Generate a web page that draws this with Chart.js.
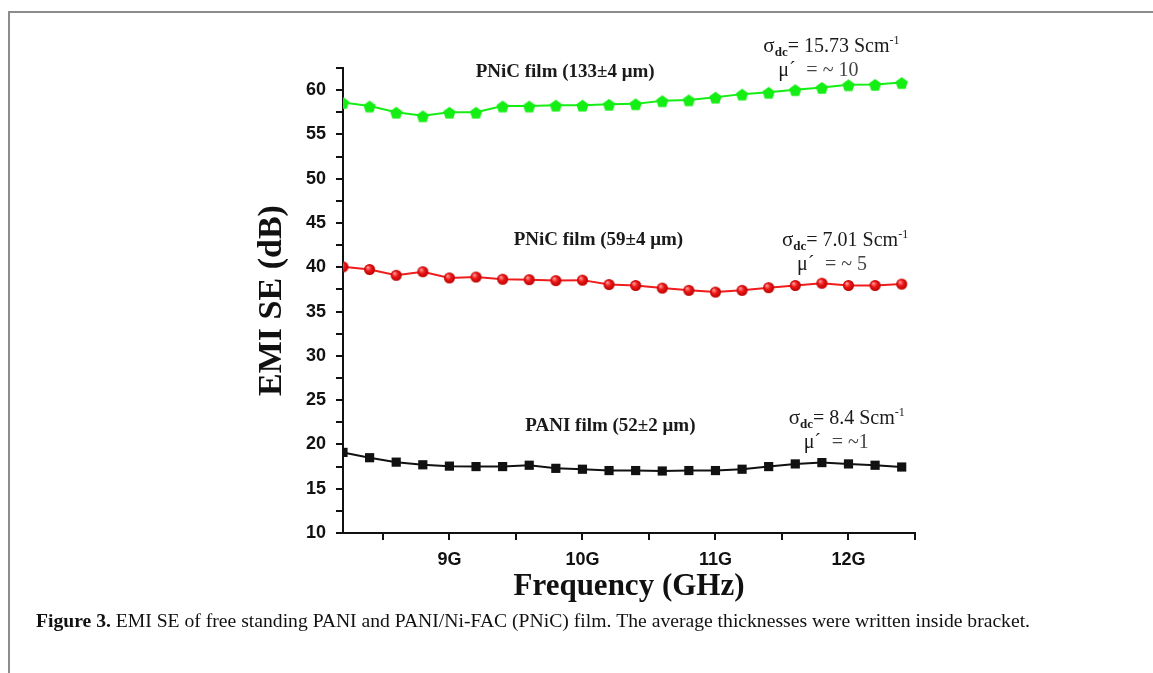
<!DOCTYPE html>
<html>
<head>
<meta charset="utf-8">
<script src="https://cdn.jsdelivr.net/npm/chart.js@4/dist/chart.umd.min.js"></script>
<style>
body{margin:0;background:#fff;}
#wrap{position:relative;width:1153px;height:673px;overflow:hidden;background:#fff;}
.frame{position:absolute;left:8px;top:11px;right:-10px;bottom:-10px;border-top:2px solid #8c8c8c;border-left:2px solid #8c8c8c;}
canvas{position:absolute;left:0;top:0;}
</style>
</head>
<body>
<div id="wrap"><div class="frame"></div><canvas id="chart" width="1153" height="673"></canvas></div>
<script>
// frequency points (GHz)
const freq = [8.2, 8.4, 8.6, 8.8, 9.0, 9.2, 9.4, 9.6, 9.8, 10.0, 10.2, 10.4, 10.6, 10.8, 11.0, 11.2, 11.4, 11.6, 11.8, 12.0, 12.2, 12.4]
// EMI SE (dB)
const pani52 = [19.1, 18.5, 18.0, 17.7, 17.55, 17.5, 17.5, 17.65, 17.3, 17.2, 17.05, 17.05, 17.0, 17.05, 17.05, 17.2, 17.5, 17.8, 17.95, 17.8, 17.65, 17.45]
const pnic59 = [40.05, 39.75, 39.1, 39.5, 38.8, 38.9, 38.65, 38.6, 38.5, 38.55, 38.05, 37.95, 37.65, 37.4, 37.2, 37.4, 37.7, 37.95, 38.2, 37.95, 37.95, 38.1]
const pnic133 = [58.6, 58.2, 57.5, 57.1, 57.5, 57.5, 58.2, 58.2, 58.3, 58.3, 58.4, 58.45, 58.8, 58.9, 59.2, 59.55, 59.75, 60.05, 60.3, 60.6, 60.65, 60.85]

const xTicks = [8.5, 9, 9.5, 10, 10.5, 11, 11.5, 12, 12.5]
const xLabels = {9: '9G', 10: '10G', 11: '11G', 12: '12G'}
const yTicks = [10, 12.5, 15, 17.5, 20, 22.5, 25, 27.5, 30, 32.5, 35, 37.5, 40, 42.5, 45, 47.5, 50, 52.5, 55, 57.5, 60, 62.5]

// film labels and conductivity notes, placed in data units
const notes = [
  {x: 9.87, y: 62.0, film: 'PNiC film (133±4 μm)', sx: 11.36, sy: 64.3, sigma: '15.73', mu: '= ~ 10'},
  {x: 10.12, y: 43.1, film: 'PNiC film (59±4 μm)', sx: 11.5, sy: 42.4, sigma: '7.01', mu: '= ~ 5'},
  {x: 10.21, y: 22.1, film: 'PANI film (52±2 μm)', sx: 11.55, sy: 22.3, sigma: '8.4', mu: '= ~1'}
]
const caption = ['Figure 3.', ' EMI SE of free standing PANI and PANI/Ni-FAC (PNiC) film. The average thicknesses were written inside bracket.']

function pentagon(color, r){
  const c = document.createElement('canvas')
  const s = Math.ceil(r*2+2)
  c.width = s; c.height = s
  const g = c.getContext('2d')
  g.fillStyle = color
  g.beginPath()
  for(let i=0;i<5;i++){
    const a = -Math.PI/2 + i*2*Math.PI/5
    g.lineTo(s/2 + r*Math.cos(a), s/2 + 1 + r*Math.sin(a))
  }
  g.closePath()
  g.fill()
  return c
}

function sphere(r){
  const c = document.createElement('canvas')
  const s = Math.ceil(r*2+2)
  c.width = s; c.height = s
  const g = c.getContext('2d')
  const grad = g.createRadialGradient(s/2-r*0.35, s/2-r*0.4, 0.5, s/2, s/2, r)
  grad.addColorStop(0, '#ff9a9a')
  grad.addColorStop(0.45, '#f01818')
  grad.addColorStop(1, '#b80000')
  g.fillStyle = grad
  g.beginPath()
  g.arc(s/2, s/2, r, 0, Math.PI*2)
  g.fill()
  return c
}

const pts = vals => freq.map((f,i) => ({x: f, y: vals[i]}))

const notesPlugin = {
  id: 'notes',
  afterDraw(chart){
    const ctx = chart.ctx
    const xs = chart.scales.x, ys = chart.scales.y
    ctx.save()
    ctx.fillStyle = '#1a1a1a'
    notes.forEach(n => {
      ctx.font = 'bold 19px "Liberation Serif"'
      ctx.textAlign = 'center'
      ctx.textBaseline = 'middle'
      ctx.fillText(n.film, xs.getPixelForValue(n.x), ys.getPixelForValue(n.y))

      ctx.textAlign = 'left'
      ctx.textBaseline = 'alphabetic'
      let px = xs.getPixelForValue(n.sx)
      const py = ys.getPixelForValue(n.sy)
      ctx.font = '21px "Liberation Serif"'
      ctx.fillText('σ', px, py)
      px += ctx.measureText('σ').width
      ctx.font = 'bold 13px "Liberation Serif"'
      ctx.fillText('dc', px, py + 4)
      px += ctx.measureText('dc').width
      ctx.font = '20px "Liberation Serif"'
      const s = '= ' + n.sigma + ' Scm'
      ctx.fillText(s, px, py)
      px += ctx.measureText(s).width
      ctx.font = '12px "Liberation Serif"'
      ctx.fillText('-1', px, py - 8)

      const mx = xs.getPixelForValue(n.sx) + 15
      ctx.font = '20px "Liberation Serif"'
      ctx.fillText('μ´', mx, py + 24)
      ctx.fillStyle = '#444'
      ctx.fillText(n.mu, mx + 28, py + 24)
      ctx.fillStyle = '#1a1a1a'
    })

    // figure caption
    ctx.font = 'bold 18px "Liberation Serif"'
    const w1 = ctx.measureText(caption[0]).width
    ctx.font = '18px "Liberation Serif"'
    const w2 = ctx.measureText(caption[1]).width
    const k = 994 / (w1 + w2)
    ctx.translate(36, 627)
    ctx.scale(k, 1)
    ctx.fillStyle = '#111'
    ctx.font = 'bold 18px "Liberation Serif"'
    ctx.fillText(caption[0], 0, 0)
    ctx.font = '18px "Liberation Serif"'
    ctx.fillText(caption[1], w1, 0)
    ctx.restore()
  }
}

new Chart(document.getElementById('chart'), {
  type: 'line',
  data: {
    datasets: [{
      label: 'PANI film (52±2 μm)',
      data: pts(pani52),
      borderColor: '#111',
      backgroundColor: '#111',
      borderWidth: 2,
      pointStyle: 'rect',
      pointRadius: 6.5,
      pointBorderWidth: 0
    }, {
      label: 'PNiC film (59±4 μm)',
      data: pts(pnic59),
      borderColor: '#f01c1c',
      borderWidth: 2,
      pointStyle: sphere(5.5)
    }, {
      label: 'PNiC film (133±4 μm)',
      data: pts(pnic133),
      borderColor: '#14ee14',
      borderWidth: 2,
      pointStyle: pentagon('#14ee14', 6.5)
    }]
  },
  options: {
    responsive: false,
    devicePixelRatio: 1,
    animation: false,
    layout: {padding: {left: 250, right: 238, top: 68, bottom: 60}},
    plugins: {legend: {display: false}, tooltip: {enabled: false}},
    scales: {
      x: {
        type: 'linear',
        min: 8.2,
        max: 12.5,
        afterBuildTicks: s => { s.ticks = xTicks.map(v => ({value: v})) },
        afterFit: s => { s.height = 80 },
        ticks: {
          callback: v => xLabels[v] || '',
          autoSkip: false,
          maxRotation: 0,
          padding: 9,
          color: '#111',
          font: {family: 'Liberation Sans', weight: 'bold', size: 18}
        },
        grid: {drawOnChartArea: false, drawTicks: true, tickLength: 7, color: '#111', lineWidth: 2},
        border: {color: '#111', width: 2},
        title: {
          display: true,
          text: 'Frequency (GHz)',
          color: '#111',
          padding: {bottom: 7},
          font: {family: 'Liberation Serif', weight: 'bold', size: 31}
        }
      },
      y: {
        min: 10,
        max: 62.5,
        afterBuildTicks: s => { s.ticks = yTicks.map(v => ({value: v})) },
        afterFit: s => { s.width = 93 },
        ticks: {
          callback: v => v % 5 === 0 ? v : '',
          autoSkip: false,
          padding: 10,
          color: '#111',
          font: {family: 'Liberation Sans', weight: 'bold', size: 18}
        },
        grid: {drawOnChartArea: false, drawTicks: true, tickLength: 7, color: '#111', lineWidth: 2},
        border: {color: '#111', width: 2},
        title: {
          display: true,
          text: 'EMI SE (dB)',
          color: '#111',
          padding: {top: 2},
          font: {family: 'Liberation Serif', weight: 'bold', size: 34}
        }
      }
    }
  },
  plugins: [notesPlugin]
})
</script>
</body>
</html>
